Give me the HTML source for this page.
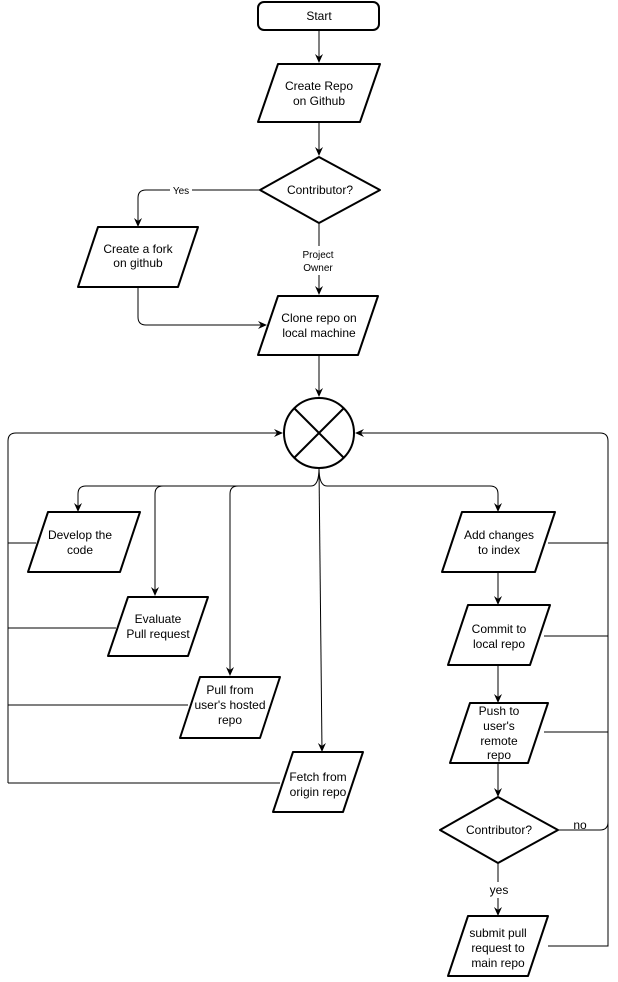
<!DOCTYPE html>
<html><head><meta charset="utf-8"><style>
html,body{margin:0;padding:0;background:#fff}
svg{display:block}
text{font-family:"Liberation Sans",sans-serif;font-size:12px;fill:#000;text-anchor:middle}
.s{fill:#fff;stroke:#000;stroke-width:2;stroke-linejoin:round}
.l{fill:none;stroke:#000;stroke-width:1}
</style></head><body>
<svg width="618" height="982" viewBox="0 0 618 982" xmlns="http://www.w3.org/2000/svg">
<defs><marker id="a" markerWidth="10" markerHeight="10" refX="8" refY="5" orient="auto" markerUnits="userSpaceOnUse"><path d="M0,1 L9,5 L0,9 L3,5 Z" fill="#000"/></marker></defs>

<!-- connectors -->
<path class="l" d="M319,30 V62" marker-end="url(#a)"/>
<path class="l" d="M319,122 V155" marker-end="url(#a)"/>
<path class="l" d="M260,190 H146 Q138,190 138,198 V226" marker-end="url(#a)"/>
<path class="l" d="M319,223 V246 M319,275 V294" marker-end="url(#a)"/>
<path class="l" d="M138,287 V317 Q138,325 146,325 H266" marker-end="url(#a)"/>
<path class="l" d="M319,355 V396" marker-end="url(#a)"/>
<path class="l" d="M8,783 V441 Q8,433 16,433 H282" marker-end="url(#a)"/>
<path class="l" d="M8,543 H36 M8,628 H116 M8,705 H188 M8,783 H280"/>
<path class="l" d="M548,946 H608 V441 Q608,433 600,433 H356" marker-end="url(#a)"/>
<path class="l" d="M548,543 H608 M544,636 H608 M544,732 H608 M558,830 H600 Q608,830 608,822"/>
<path class="l" d="M319,468 Q319,486 311,486 H86 Q78,486 78,494 V511" marker-end="url(#a)"/>
<path class="l" d="M163,486 Q155,486 155,494 V595" marker-end="url(#a)"/>
<path class="l" d="M238,486 Q230,486 230,494 V675" marker-end="url(#a)"/>
<path class="l" d="M319,468 L322,751" marker-end="url(#a)"/>
<path class="l" d="M319,468 Q319,486 327,486 H490 Q498,486 498,494 V511" marker-end="url(#a)"/>
<path class="l" d="M498,572 V604" marker-end="url(#a)"/>
<path class="l" d="M498,665 V702" marker-end="url(#a)"/>
<path class="l" d="M498,763 V796" marker-end="url(#a)"/>
<path class="l" d="M498,863 V882 M498,898 V915" marker-end="url(#a)"/>

<!-- shapes -->
<rect class="s" x="258" y="2" width="121" height="28" rx="6"/>
<text x="319" y="20">Start</text>

<path class="s" d="M278,64 H380 L360,122 H258 Z"/>
<text x="319" y="90">Create Repo</text><text x="319" y="105">on Github</text>

<path class="s" d="M319,157 L380,190 L319,223 L260,190 Z"/>
<text x="320" y="194">Contributor?</text>
<rect x="170" y="183" width="22" height="14" fill="#fff"/>
<text x="181" y="194" font-size="10" style="font-size:10px">Yes</text>
<text x="318" y="258" style="font-size:10px">Project</text>
<text x="318" y="271" style="font-size:10px">Owner</text>

<path class="s" d="M98,227 H198 L178,287 H78 Z"/>
<text x="138" y="253">Create a fork</text><text x="138" y="267">on github</text>

<path class="s" d="M278,296 H378 L358,355 H258 Z"/>
<text x="319" y="322">Clone repo on</text><text x="319" y="337">local machine</text>

<circle class="s" cx="319" cy="433" r="35"/>
<path class="s" d="M294,408 L344,458 M344,408 L294,458"/>

<path class="s" d="M48,512 H140 L120,572 H28 Z"/>
<text x="80" y="539">Develop the</text><text x="80" y="554">code</text>

<path class="s" d="M128,597 H208 L188,656 H108 Z"/>
<text x="158" y="623">Evaluate</text><text x="158" y="638">Pull request</text>

<path class="s" d="M200,677 H280 L260,738 H180 Z"/>
<text x="230" y="694">Pull from</text><text x="230" y="709">user's hosted</text><text x="230" y="724">repo</text>

<path class="s" d="M293,752 H363 L343,812 H273 Z"/>
<text x="318" y="781">Fetch from</text><text x="318" y="796">origin repo</text>

<path class="s" d="M462,512 H555 L535,572 H442 Z"/>
<text x="499" y="539">Add changes</text><text x="499" y="554">to index</text>

<path class="s" d="M468,605 H550 L530,665 H448 Z"/>
<text x="499" y="633">Commit to</text><text x="499" y="648">local repo</text>

<path class="s" d="M470,703 H548 L528,763 H450 Z"/>
<text x="499" y="715">Push to</text><text x="499" y="730">user's</text><text x="499" y="745">remote</text><text x="499" y="759">repo</text>

<path class="s" d="M498,797 L558,830 L498,863 L440,830 Z"/>
<text x="499" y="834">Contributor?</text>
<text x="580" y="829">no</text>
<text x="499" y="894">yes</text>

<path class="s" d="M468,916 H548 L528,976 H448 Z"/>
<text x="498" y="937">submit pull</text><text x="498" y="952">request to</text><text x="498" y="967">main repo</text>
</svg>
</body></html>
